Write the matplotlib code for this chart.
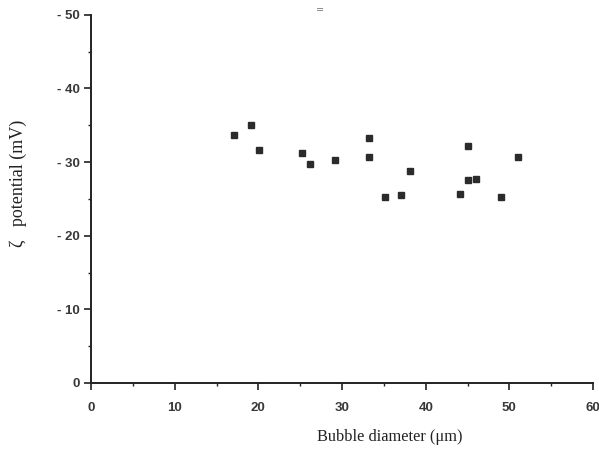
import matplotlib
matplotlib.use("Agg")
import matplotlib.pyplot as plt
from matplotlib.ticker import MultipleLocator, FuncFormatter

# bubble diameter (um) vs zeta potential (mV)
diameter = [17.1, 19.1, 20.1, 25.2, 26.2, 29.2, 33.2, 33.2, 35.1, 37.0,
            38.1, 44.1, 45.1, 45.1, 46.0, 49.0, 51.0]
zeta = [-33.7, -35.0, -31.7, -31.2, -29.7, -30.3, -33.3, -30.7, -25.3, -25.5,
        -28.8, -25.6, -32.2, -27.5, -27.7, -25.3, -30.7]

def fmt_y(v, pos):
    if abs(v) < 1e-9:
        return "0"
    return f"- {abs(v):.0f}"

fig = plt.figure(figsize=(5.99, 4.5), dpi=100)
ax = fig.add_axes([0.152, 0.149, 0.838, 0.818])

ax.plot(diameter, zeta, linestyle="none", marker="s", markersize=5,
        color="#2b2b2b", markeredgecolor="#2b2b2b")

ax.set_xlim(0, 60)
ax.set_ylim(0, -50)
ax.xaxis.set_major_locator(MultipleLocator(10))
ax.xaxis.set_minor_locator(MultipleLocator(5))
ax.yaxis.set_major_locator(MultipleLocator(10))
ax.yaxis.set_minor_locator(MultipleLocator(5))
ax.yaxis.set_major_formatter(FuncFormatter(fmt_y))

for s in ["top", "right"]:
    ax.spines[s].set_visible(False)
for s in ["left", "bottom"]:
    ax.spines[s].set_linewidth(1.4)
    ax.spines[s].set_color("#222222")

ax.tick_params(which="major", direction="out", length=5, width=1.2,
               colors="#222222", labelsize=9.5, pad=3)
ax.tick_params(axis="x", which="major", pad=9)
ax.tick_params(which="minor", direction="out", length=2.5, width=1.0,
               colors="#222222")
for lab in ax.get_xticklabels() + ax.get_yticklabels():
    lab.set_fontweight("bold")
    lab.set_color("#383838")
    lab.set_family("Liberation Sans")

ax.set_xlabel("Bubble diameter (\u03bcm)", family="Liberation Serif",
              fontsize=11.8, color="#222222")
ax.xaxis.set_label_coords(0.595, -0.147)
ax.xaxis.label.set_va("center")
ax.set_ylabel("\u03b6   potential (mV)", family="Liberation Serif",
              fontsize=13, color="#222222")
ax.yaxis.set_label_coords(-0.145, 0.543)
ax.yaxis.label.set_va("center")

fig.text(0.535, 0.977, "=", fontsize=7, color="#777777",
         ha="center", va="center")

fig.savefig("out.png", dpi=100)
